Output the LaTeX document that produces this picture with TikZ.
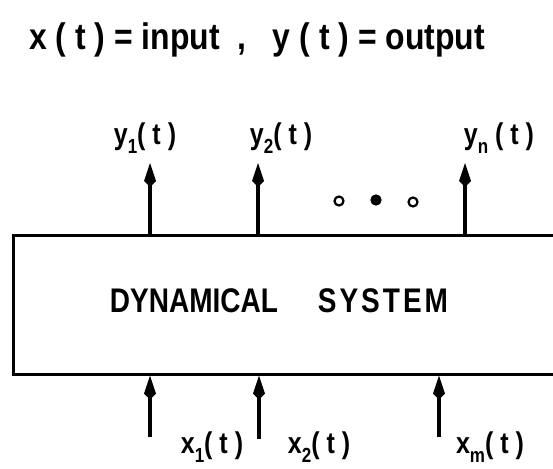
\documentclass[tikz,border=0pt]{standalone}
\usepackage{fontspec}
\setmainfont{Liberation Sans}
\usetikzlibrary{arrows.meta}
\newcommand{\lowsub}[1]{\raisebox{-0.32em}{\fontsize{17}{17}\selectfont #1}}
\begin{document}
\begin{tikzpicture}[x=1pt,y=-1pt,
  arr/.style={line width=4.4pt,-{Kite[length=24pt,width=12pt,inset=6pt]}},
  lbl/.style={font=\fontsize{25}{28}\selectfont\bfseries,inner sep=0pt,yscale=1.2},
  sysbox/.style={draw,line width=2.6pt,inner sep=0pt},
  dot/.style={line width=2.2pt}]
\useasboundingbox (0,0) rectangle (553,468);
\clip (0,0) rectangle (553,468);
\node[lbl,font=\fontsize{28}{32}\selectfont\bfseries,xscale=1.14,yscale=1.1] (title) at (257,40) {x ( t ) = input \ ,\ \ \ y ( t ) = output};
\node[sysbox,minimum width=570pt,minimum height=139pt,anchor=north west] (sys) at (12,234) {};
\node[font=\fontsize{28}{30}\selectfont\bfseries,inner sep=0pt,yscale=1.22] (dyn) at (279,301) {DYNAMICAL\hspace{40pt}S\kern3pt Y\kern3pt S\kern3pt T\kern3pt E\kern3pt M};
% outputs
\coordinate (o1) at (150,163);
\coordinate (o2) at (258,163);
\coordinate (on) at (465,163);
\draw[arr] (sys.north -| o1) -- (o1);
\draw[arr] (sys.north -| o2) -- (o2);
\draw[arr] (sys.north -| on) -- (on);
\node[lbl] (ly1) at (145,138) {y\lowsub{1}( t )};
\node[lbl] (ly2) at (281,138) {y\lowsub{2}( t )};
\node[lbl] (lyn) at (499,138) {y\lowsub{n} ( t )};
% dots
\node[circle,draw,dot,minimum size=9pt,inner sep=0pt] (d1) at (339,201) {};
\node[circle,draw,fill,dot,minimum size=9pt,inner sep=0pt] (d2) at (376,200) {};
\node[circle,draw,dot,minimum size=9pt,inner sep=0pt] (d3) at (413,202) {};
% inputs
\coordinate (i1) at (150,437);
\coordinate (i2) at (259,439);
\coordinate (im) at (439,437);
\draw[arr] (i1) -- (i1 |- sys.south);
\draw[arr] (i2) -- (i2 |- sys.south);
\draw[arr] (im) -- (im |- sys.south);
\node[lbl] (lx1) at (212,447) {x\lowsub{1}( t )};
\node[lbl] (lx2) at (319,447) {x\lowsub{2}( t )};
\node[lbl] (lxm) at (490,447) {x\lowsub{m}( t )};
\end{tikzpicture}
\end{document}
